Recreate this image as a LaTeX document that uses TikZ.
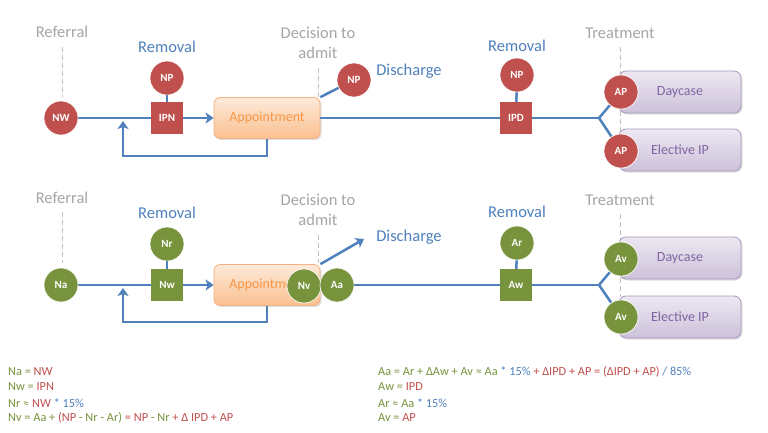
\documentclass[tikz,border=0pt]{standalone}
\usepackage{fontspec}
\setmainfont{Carlito}
\usetikzlibrary{arrows.meta,shadows}
\definecolor{cred}{HTML}{C0504D}
\definecolor{cgreen}{HTML}{77933C}
\definecolor{cblue}{HTML}{4F81BD}
\definecolor{cgray}{HTML}{A6A6A6}
\definecolor{cdash}{HTML}{BFBFBF}
\definecolor{corange}{HTML}{F79646}
\definecolor{corlight}{HTML}{FDE9D9}
\definecolor{cordark}{HTML}{FAC090}
\definecolor{corline}{HTML}{F4B183}
\definecolor{cpurple}{HTML}{8064A2}
\definecolor{cpulight}{HTML}{EDE8F2}
\definecolor{cpudark}{HTML}{CCC1DA}
\definecolor{cpuline}{HTML}{A898BE}
\tikzset{
  rcirc/.style={circle, fill=cred, draw=white, line width=0.6, minimum size=34, inner sep=0,
    text=white, font=\bfseries\fontsize{11}{11}\selectfont},
  gcirc/.style={rcirc, fill=cgreen},
  rsq/.style={rectangle, fill=cred, minimum size=32, inner sep=0,
    text=white, font=\bfseries\fontsize{11}{11}\selectfont},
  gsq/.style={rsq, fill=cgreen},
  apptbox/.style={rectangle, rounded corners=6, draw=corline, line width=0.8,
    top color=corlight, bottom color=cordark, minimum width=106, minimum height=41,
    text=corange, font=\fontsize{14}{14}\selectfont,
    drop shadow={shadow xshift=1.5pt, shadow yshift=-1.5pt, opacity=0.25}},
  treatbox/.style={rectangle, rounded corners=7, draw=cpuline, line width=0.8,
    top color=cpulight, bottom color=cpudark, minimum width=122, minimum height=42,
    text=cpurple, font=\fontsize{14}{14}\selectfont,
    drop shadow={shadow xshift=1.5pt, shadow yshift=-1.5pt, opacity=0.25}},
  graylbl/.style={text=cgray, font=\fontsize{16.5}{20}\selectfont, align=center},
  bluelbl/.style={text=cblue, font=\fontsize{16.5}{16.5}\selectfont},
  flow/.style={draw=cblue, line width=2.5},
  flowarr/.style={flow, -{Stealth[length=8pt,width=11pt,inset=2pt]}},
  dashline/.style={draw=cdash, line width=1, dash pattern=on 5pt off 3pt},
  eq/.style={anchor=west, inner sep=0, font=\fontsize{12.3}{12.3}\selectfont},
}
\newcommand{\eqg}[1]{\textcolor{cgreen}{#1}}
\newcommand{\eqr}[1]{\textcolor{cred}{#1}}
\newcommand{\eqb}[1]{\textcolor{cblue}{#1}}
\begin{document}
\begin{tikzpicture}[x=1pt,y=-1pt]
\useasboundingbox (0,0) rectangle (768,432);
\fill[white] (0,0) rectangle (768,432);

% ---------------- TOP ROW ----------------
\coordinate (t1a) at (62,47);  \coordinate (t1b) at (62,97);
\coordinate (t2a) at (318,68); \coordinate (t2b) at (318,97);
\coordinate (t3a) at (620,47); \coordinate (t3b) at (620,131);
\draw[dashline] (t1a) -- (t1b);
\draw[dashline] (t2a) -- (t2b);
\draw[dashline] (t3a) -- (t3b);

\node[graylbl] (ref1) at (62,32) {Referral};
\node[graylbl] (dec1) at (318,43) {Decision to\\admit};
\node[graylbl] (trt1) at (620,33) {Treatment};
\node[bluelbl] (rem1) at (167,47) {Removal};
\node[bluelbl] (rem2) at (517,46) {Removal};
\node[bluelbl] (dis1) at (409,71) {Discharge};

\node[apptbox] (app1) at (267,118) {Appointment};
\node[treatbox] (day1) at (680,92) {Daycase};
\node[treatbox] (eip1) at (680,150) {Elective IP};

\node[rcirc] (nw) at (61,118) {NW};
\node[rsq] (ipn) at (167,118) {IPN};
\node[rcirc] (np1) at (167,78) {NP};
\node[rcirc] (np2) at (354,80) {NP};
\node[rsq] (ipd) at (516,118) {IPD};
\node[rcirc] (np3) at (517,75) {NP};
\node[rcirc] (ap1) at (621,92) {AP};
\node[rcirc] (ap2) at (621,151) {AP};

\coordinate (loop1) at (123,121);
\coordinate (fork1) at (599,118);
\draw[flow] (nw) -- (ipn);
\draw[flow] (np1) -- (ipn);
\draw[flowarr] (ipn) -- (app1);
\draw[flowarr] (app1.south) -- ++(0,17) -| (loop1);
\draw[flow] (app1.north east) -- (np2);
\draw[flow] (app1) -- (ipd);
\draw[flow] (np3) -- (ipd);
\draw[flow] (ipd) -- (fork1);
\draw[flow] (fork1) -- (ap1);
\draw[flow] (fork1) -- (ap2);
\node[rcirc] at (nw) {NW};
\node[rsq] at (ipn) {IPN};
\node[rsq] at (ipd) {IPD};
\node[rcirc] at (ap1) {AP};
\node[rcirc] at (ap2) {AP};

% ---------------- BOTTOM ROW ----------------
\coordinate (b1a) at (62,212);  \coordinate (b1b) at (62,263);
\coordinate (b2a) at (318,235); \coordinate (b2b) at (318,263);
\coordinate (b3a) at (620,214); \coordinate (b3b) at (620,297);
\draw[dashline] (b1a) -- (b1b);
\draw[dashline] (b2a) -- (b2b);
\draw[dashline] (b3a) -- (b3b);

\node[graylbl] (ref2) at (62,198) {Referral};
\node[graylbl] (dec2) at (318,210) {Decision to\\admit};
\node[graylbl] (trt2) at (620,200) {Treatment};
\node[bluelbl] (rem3) at (167,213) {Removal};
\node[bluelbl] (rem4) at (517,212) {Removal};
\node[bluelbl] (dis2) at (409,237) {Discharge};

\node[apptbox] (app2) at (267,285) {Appointment};
\node[treatbox] (day2) at (680,258) {Daycase};
\node[treatbox] (eip2) at (680,317) {Elective IP};

\node[gcirc] (na) at (61,285) {Na};
\node[gsq] (nwb) at (167,285) {Nw};
\node[gcirc] (nr) at (167,244) {Nr};
\node[gcirc] (nv) at (304,286) {Nv};
\node[gcirc] (aa) at (337,285) {Aa};
\node[gsq] (aw) at (516,285) {Aw};
\node[gcirc] (ar) at (517,243) {Ar};
\node[gcirc] (av1) at (621,259) {Av};
\node[gcirc] (av2) at (621,317) {Av};

\coordinate (loop2) at (123,288);
\coordinate (fork2) at (599,285);
\coordinate (disend) at (364,239);
\draw[flow] (na) -- (nwb);
\draw[flow] (nr) -- (nwb);
\draw[flowarr] (nwb) -- (app2);
\draw[flowarr] (app2.south) -- ++(0,16) -| (loop2);
\draw[flowarr] (app2.north east) -- (disend);
\draw[flow] (aa) -- (aw);
\draw[flow] (ar) -- (aw);
\draw[flow] (aw) -- (fork2);
\draw[flow] (fork2) -- (av1);
\draw[flow] (fork2) -- (av2);
\node[gcirc] at (na) {Na};
\node[gsq] at (nwb) {Nw};
\node[gsq] at (aw) {Aw};
\node[gcirc] at (av1) {Av};
\node[gcirc] at (av2) {Av};

% ---------------- EQUATIONS ----------------
\node[eq] (e1) at (8,372) {\eqg{Na =} \eqr{NW}};
\node[eq] (e2) at (8,387) {\eqg{Nw =} \eqr{IPN}};
\node[eq] (e3) at (8,403) {\eqg{Nr ≈} \eqr{NW} \eqb{* 15\%}};
\node[eq] (e4) at (8,418) {\eqg{Nv = Aa +} \eqr{(NP} \eqg{- Nr - Ar)} \eqr{= NP} \eqg{- Nr} \eqr{+ Δ IPD + AP}};
\node[eq] (e5) at (378,372) {\eqg{Aa = Ar + ΔAw + Av ≈ Aa} \eqb{* 15\%} \eqr{+ ΔIPD + AP = (ΔIPD + AP)} \eqb{/ 85\%}};
\node[eq] (e6) at (378,387) {\eqg{Aw =} \eqr{IPD}};
\node[eq] (e7) at (378,403) {\eqg{Ar ≈ Aa} \eqb{* 15\%}};
\node[eq] (e8) at (378,418) {\eqg{Av =} \eqr{AP}};
\end{tikzpicture}
\end{document}
